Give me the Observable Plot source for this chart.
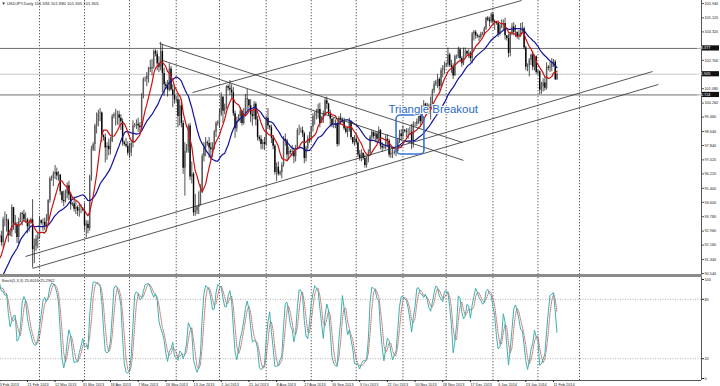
<!DOCTYPE html>
<html><head><meta charset="utf-8">
<script src="https://cdn.jsdelivr.net/npm/d3@7"></script>
<script src="https://cdn.jsdelivr.net/npm/@observablehq/plot@0.6"></script>
<style>
body{margin:0;background:#fff;}
#wrap{width:720px;height:386px;overflow:hidden;font-family:"Liberation Sans",Arial,sans-serif;background:#fff;}
#sep{width:702px;height:3px;background:#8a8a8a;}
svg{display:block;overflow:visible;}
</style></head><body><div id="wrap"></div>
<script>
// Daily bars [high, low, close]; MT4 feed with Sunday sessions. Open = previous close.
// jan2013: 2 Jan .. 1 Feb 2013 (pre-roll, last element is 1 Feb)
const jan2013 = [[87.25,86.25,87.20],[87.40,86.70,87.15],[88.45,86.85,88.15],[88.25,88.00,88.05],[88.40,87.60,87.80],[87.90,86.85,87.10],[87.90,87.00,87.80],[89.00,87.60,88.85],[89.65,88.70,89.20],[89.35,89.15,89.25],[89.65,88.80,89.10],[89.35,87.80,88.60],[88.85,87.90,88.30],[90.10,88.25,89.95],[90.25,89.30,90.10],[90.10,89.85,89.95],[90.10,89.05,89.60],[90.70,88.40,88.70],[89.25,88.05,88.60],[90.70,88.55,90.40],[91.00,90.20,90.80],[90.95,90.70,90.85],[91.15,90.30,90.80],[91.00,90.10,90.70],[91.50,90.60,91.10],[91.75,90.85,91.70],[92.80,91.55,92.70]];
const feb2013 = [[92.75,92.55,92.65],[92.95,92.10,92.30],[93.75,91.95,93.60],[94.05,93.20,93.60],[93.90,92.90,93.55],[93.65,92.30,92.70],[92.95,92.65,92.90],[94.45,92.60,94.30],[94.25,93.00,93.40],[93.85,92.80,93.30],[93.45,92.25,92.60],[93.70,92.20,93.50],[94.00,93.45,93.95],[94.05,93.25,93.90],[94.15,93.50,93.60],[94.00,93.40,93.60],[93.70,92.80,93.20],[93.60,92.90,93.40],[93.70,93.35,93.60],[94.75,90.85,91.90],[92.50,91.10,92.10],[92.70,91.80,92.50],[92.80,91.95,92.60]];
const mar2013 = [[93.75,92.50,93.55],[93.60,93.30,93.40],[93.65,92.95,93.45],[93.70,93.00,93.25],[93.90,92.90,93.55],[94.75,93.50,94.70],[96.05,94.55,95.95],[96.10,95.80,95.95],[96.35,95.50,96.20],[96.70,95.90,96.30],[96.55,95.85,96.10],[96.35,95.80,96.15],[96.20,95.00,95.20],[95.20,94.55,94.70],[95.25,94.35,94.65],[95.30,94.55,95.10],[95.70,94.80,95.55],[95.80,94.70,95.00],[95.15,94.15,94.45],[94.60,94.35,94.50],[94.90,94.05,94.20],[94.65,93.90,94.30],[94.40,93.80,94.10],[94.50,93.75,94.20],[94.45,93.95,94.20],[94.30,94.05,94.15]];
const apr2013 = [[94.55,92.95,93.25],[93.55,92.55,93.35],[93.55,92.80,93.10],[96.15,92.95,96.05],[97.80,95.80,97.60],[98.00,97.50,97.90],[99.05,97.50,98.95],[99.70,98.50,99.20],[99.85,98.90,99.65],[99.95,99.20,99.70],[99.75,98.00,98.40],[98.45,98.10,98.30],[98.50,96.85,97.70],[98.00,97.00,97.80],[98.20,97.25,97.60],[98.30,97.30,98.05],[99.60,98.00,99.50],[99.70,99.35,99.60],[99.90,98.95,99.60],[99.80,99.00,99.60],[99.80,98.95,99.40],[99.60,98.70,99.20],[99.35,97.80,98.00],[98.10,97.80,97.90],[98.25,97.70,97.80],[98.05,97.25,97.40]];
const may2013 = [[97.95,97.10,97.40],[98.10,97.20,97.95],[99.25,97.70,98.95],[99.10,98.85,99.00],[99.30,98.75,99.05],[99.40,98.60,98.95],[99.15,98.55,98.85],[100.80,98.80,100.60],[101.70,100.50,101.60],[101.75,101.45,101.60],[102.00,101.20,101.80],[102.30,101.40,102.25],[102.70,102.00,102.20],[102.75,101.80,102.30],[103.30,102.20,103.20],[103.30,102.90,103.05],[103.25,102.10,102.50],[102.90,102.00,102.30],[103.73,102.10,103.20],[103.60,100.85,101.95],[102.25,100.65,101.30],[101.45,101.05,101.20],[101.55,100.60,101.00],[102.50,100.90,102.20],[102.35,100.95,101.00],[101.30,100.00,100.70],[101.15,100.20,100.45]];
const jun2013 = [[100.60,100.30,100.45],[100.70,98.85,99.50],[100.45,98.95,100.10],[100.30,98.85,99.10],[99.25,96.20,96.55],[98.00,94.95,97.50],[97.90,97.40,97.75],[99.05,97.40,98.95],[99.10,95.85,96.05],[96.90,95.65,96.20],[96.30,93.80,94.00],[95.05,93.80,94.10],[94.40,93.90,94.30],[95.20,93.90,94.50],[95.60,94.40,95.30],[97.35,95.10,97.20],[98.00,96.90,97.70],[98.30,97.20,98.00],[98.10,97.80,97.95],[98.30,97.10,97.70],[98.00,97.00,97.60],[98.00,97.15,97.80],[98.70,97.60,98.60],[99.20,98.30,99.10],[99.25,98.95,99.15]];
const jul2013 = [[99.90,98.80,99.60],[100.85,99.50,100.60],[100.60,99.10,99.80],[100.20,99.60,100.00],[101.25,99.90,101.20],[101.30,100.95,101.10],[101.55,100.70,101.00],[101.30,100.50,100.85],[101.15,99.50,99.65],[99.80,98.25,98.80],[99.45,98.60,99.20],[99.60,99.20,99.50],[100.00,99.10,99.80],[99.85,98.95,99.10],[99.95,99.00,99.70],[100.75,99.60,100.50],[101.05,99.80,100.45],[100.45,99.90,100.10],[100.45,99.15,99.60],[99.85,98.95,99.50],[100.35,99.30,100.20],[100.30,98.95,99.30],[99.50,98.10,98.30],[98.40,98.05,98.20],[98.40,97.60,97.90],[98.15,97.60,98.00],[98.30,97.55,97.90]];
const aug2013 = [[99.50,97.80,99.40],[99.95,98.75,98.95],[99.00,98.70,98.85],[99.00,97.95,98.25],[98.40,97.60,97.80],[97.90,96.15,96.30],[96.85,95.80,96.60],[96.90,96.10,96.20],[96.40,96.10,96.30],[96.85,95.95,96.70],[98.35,96.60,98.20],[98.50,97.80,98.10],[98.20,96.95,97.30],[97.75,97.00,97.50],[97.60,97.30,97.45],[97.85,97.20,97.50],[97.70,96.80,97.20],[97.85,96.90,97.70],[98.80,97.60,98.70],[99.00,98.40,98.70],[98.85,98.55,98.70],[98.90,98.30,98.50],[98.60,96.80,97.10],[97.80,96.90,97.70],[98.40,97.50,98.20],[98.60,97.95,98.10]];
const sep2013 = [[98.95,98.10,98.90],[99.65,98.60,99.50],[99.75,99.00,99.50],[99.90,99.30,99.70],[100.20,99.35,99.90],[100.25,98.85,99.10],[99.50,99.10,99.40],[99.80,99.10,99.60],[100.55,99.50,100.40],[100.60,99.90,100.20],[100.25,99.50,99.60],[99.85,98.90,99.35],[99.35,98.85,99.00],[99.40,98.80,99.00],[99.30,98.80,99.10],[99.20,97.75,97.90],[99.50,97.80,99.40],[99.65,99.00,99.30],[99.40,99.10,99.20],[99.40,98.70,98.80],[98.95,98.50,98.60],[98.90,98.30,98.70],[99.40,98.60,99.20],[99.25,98.15,98.30],[98.30,97.90,98.00],[98.40,97.80,98.20]];
const oct2013 = [[98.50,97.90,98.00],[98.10,97.15,97.30],[97.55,96.95,97.10],[97.60,96.90,97.40],[97.40,97.00,97.10],[97.30,96.55,96.70],[97.20,96.55,97.00],[97.60,96.85,97.40],[98.40,97.30,98.30],[98.70,98.10,98.60],[98.60,98.20,98.35],[98.60,98.00,98.50],[98.60,98.00,98.20],[98.90,98.00,98.70],[98.75,97.60,97.80],[98.00,97.45,97.70],[97.85,97.60,97.75],[98.40,97.60,98.20],[98.45,97.70,98.10],[98.20,97.15,97.30],[97.60,97.10,97.40],[97.75,97.10,97.40],[97.55,97.30,97.45],[97.80,97.20,97.50],[98.25,97.40,98.10],[98.70,97.95,98.50],[98.75,98.05,98.35]];
const nov2013 = [[98.95,98.20,98.70],[98.75,98.55,98.65],[98.80,98.30,98.60],[98.80,98.20,98.60],[98.90,98.40,98.60],[99.05,97.60,98.10],[99.20,97.70,99.05],[99.15,98.90,99.05],[99.35,98.90,99.20],[99.75,99.05,99.60],[99.70,98.95,99.20],[100.00,99.10,99.90],[100.40,99.75,100.20],[100.25,100.00,100.10],[100.25,99.80,100.00],[100.20,99.60,99.90],[100.60,99.30,100.20],[101.05,100.10,100.95],[101.50,100.80,101.30],[101.55,101.20,101.45],[101.90,101.10,101.60],[101.70,100.95,101.20],[102.25,101.10,102.10],[102.40,101.70,102.20],[102.60,101.90,102.40]];
const dec2013 = [[102.55,102.30,102.45],[103.40,102.30,103.00],[103.10,102.30,102.40],[102.70,101.95,102.30],[102.50,101.60,101.80],[103.00,101.80,102.90],[103.00,102.75,102.90],[103.45,102.80,103.30],[103.40,102.60,102.80],[102.90,102.30,102.50],[103.40,102.40,103.20],[103.40,102.80,103.20],[103.25,102.95,103.05],[103.30,102.80,103.10],[103.20,102.60,102.80],[104.30,102.50,104.20],[104.40,103.80,104.30],[104.40,103.90,104.10],[104.20,103.95,104.05],[104.15,103.75,104.00],[104.30,103.90,104.20],[104.30,104.10,104.20],[104.60,104.10,104.50],[105.15,104.40,105.10],[105.20,104.90,105.00],[105.15,104.60,104.90],[105.40,104.80,105.30]];
const jan2014 = [[105.44,104.65,104.90],[105.00,104.40,104.85],[104.90,104.70,104.80],[104.95,104.00,104.20],[104.75,104.10,104.65],[105.00,104.50,104.80],[105.00,104.40,104.80],[105.10,103.85,104.10],[104.10,103.80,103.95],[104.20,102.85,103.10],[104.30,102.90,104.20],[104.80,104.10,104.60],[104.85,104.10,104.30],[104.70,104.00,104.30],[104.30,103.90,104.05],[104.40,103.85,104.20],[104.80,104.00,104.30],[104.85,104.20,104.50],[104.60,103.30,103.40],[103.50,102.10,102.30],[102.50,102.05,102.40],[102.80,101.75,102.70],[103.05,102.40,103.00],[103.20,102.10,102.30],[103.00,102.10,102.90],[102.95,101.90,102.00]];
const feb2014 = [[102.15,101.85,102.05],[102.10,100.75,101.00],[101.45,100.76,101.20],[101.65,100.90,101.40],[101.70,100.95,101.10],[102.55,101.00,102.30],[102.40,102.10,102.25],[102.60,102.00,102.30],[102.80,102.05,102.60],[102.75,102.30,102.60],[102.70,101.55,101.594],[101.98,101.555,101.905]];
const prevClose = 86.75;

// time axis (bar numbers, 3 Feb 2013 = bar 0)
const dateLabels = ["3 Feb 2013","21 Feb 2013","12 Mar 2013","31 Mar 2013","18 Apr 2013","7 May 2013","26 May 2013","13 Jun 2013","2 Jul 2013","21 Jul 2013","8 Aug 2013","27 Aug 2013","16 Sep 2013","3 Oct 2013","22 Oct 2013","10 Nov 2013","28 Nov 2013","17 Dec 2013","6 Jan 2014","23 Jan 2014","11 Feb 2014"];
const labelBars = [0,16,32,48,64,80,96,112,128,144,160,176,192,208,224,240,256,272,288,304,320];
const monthStartBars = [23,49,75,102,127,154,180,206,233,258,285,311,335];

// price axis (103.500 and 101.880 sit under the marked price boxes)
const priceTicks = [105.94,105.12,104.32,102.7,101.08,100.26,99.46,98.64,97.84,97.02,96.22,95.4,94.6,93.78,92.96,92.16,91.34,90.54];
const levelPrices = [103.377, 100.724];
const bidPrice = 101.905;
const markedPrices = [103.377, 101.905, 100.724];

// drawn objects (bar, price)
const trendLines = [
  {b1: 14.9, p1: 91.51, b2: 377.2, p2: 102.06},
  {b1: 18.95, p1: 90.83, b2: 380.6, p2: 101.32},
  {b1: 111.4, p1: 100.86, b2: 301.5, p2: 106.11},
  {b1: 92.3, p1: 103.66, b2: 267.4, p2: 98.01},
  {b1: 94.1, p1: 102.69, b2: 268.0, p2: 96.99}
];
const breakoutBox = [{b1: 229.3, b2: 245.4, p1: 97.33, p2: 99.55}];
const breakoutNote = [{b: 224.6, p: 99.67, text: "Triangle Breakout"}];
const stochLevels = [20, 80];
const stochTicks = [0, 20, 80, 100];

// ---- build bars
const rows = [jan2013, feb2013, mar2013, apr2013, may2013, jun2013, jul2013, aug2013, sep2013, oct2013, nov2013, dec2013, jan2014, feb2014].flat();
const first = -jan2013.length; // 3 Feb 2013 = bar 0
let pc = prevClose;
const bars = rows.map(([h, l, c], k) => { const o = pc; pc = c; return {i: first + k, o, h, l, c}; });

// stochastic 5,3,3
const N = 5, S = 3, P = 3;
const lo = bars.map((d, k) => k < N - 1 ? NaN : d3.min(bars.slice(k - N + 1, k + 1), e => e.l));
const hi = bars.map((d, k) => k < N - 1 ? NaN : d3.max(bars.slice(k - N + 1, k + 1), e => e.h));
const K = bars.map((d, k) => {
  if (k < N - 1 + S - 1) return NaN;
  let a = 0, b = 0;
  for (let j = k - S + 1; j <= k; j++) { a += bars[j].c - lo[j]; b += hi[j] - lo[j]; }
  return b === 0 ? 100 : 100 * a / b;
});
const Dv = K.map((v, k) => k < N - 1 + S - 1 + P - 1 ? NaN : d3.mean(K.slice(k - P + 1, k + 1)));
const stochRows = bars.map((d, k) => ({i: d.i, k: K[k], d: Dv[k]})).filter(r => !isNaN(r.k));

const xDom = [0.462, 405.5];
const font = "Liberation Sans, Arial, sans-serif";

const price = Plot.plot({
  width: 720, height: 274, marginLeft: 0, marginRight: 19, marginTop: 0, marginBottom: 0,
  style: {fontFamily: font, fontSize: "3.8px", color: "#222", background: "#fff"},
  x: {domain: xDom, axis: null},
  y: {domain: [90.483, 106.111]},
  marks: [
    Plot.ruleX(monthStartBars, {stroke: "#333", strokeWidth: 0.8, strokeDasharray: "1.3,1.7"}),
    Plot.ruleY(levelPrices, {stroke: "#6e6e6e", strokeWidth: 1}),
    Plot.ruleY([bidPrice], {stroke: "#c4c4c4", strokeWidth: 1}),
    Plot.ruleX(bars, {x: "i", y1: "l", y2: "h", stroke: "#1a1a1a", strokeWidth: 0.75, clip: true}),
    Plot.ruleX(bars, {filter: d => d.c >= d.o, x: "i", y1: "o", y2: "c", stroke: "#5a5a5a", strokeWidth: 1.4, clip: true}),
    Plot.ruleX(bars, {filter: d => d.c < d.o, x: "i", y1: "o", y2: "c", stroke: "#000", strokeWidth: 1.4, clip: true}),
    Plot.line(bars, Plot.windowY({k: 21, anchor: "end", reduce: "mean"}, {x: "i", y: "c", stroke: "#12129c", strokeWidth: 1.2, clip: true})),
    Plot.line(bars, Plot.windowY({k: 8, anchor: "end", reduce: "mean"}, {x: "i", y: "c", stroke: "#cc1111", strokeWidth: 1.2, clip: true})),
    Plot.link(trendLines, {x1: "b1", y1: "p1", x2: "b2", y2: "p2", stroke: "#2a2a2a", strokeWidth: 0.8, clip: true}),
    Plot.rect(breakoutBox, {x1: "b1", x2: "b2", y1: "p1", y2: "p2", fill: "none", stroke: "#3574d4", strokeWidth: 1.6, rx: 4}),
    Plot.text(breakoutNote, {x: "b", y: "p", text: "text", textAnchor: "start", lineAnchor: "bottom", fontSize: 11.4, fontFamily: font, fill: "#2a68c8", stroke: "#ffffff", strokeWidth: 2.2, paintOrder: "stroke"}),
    Plot.text(["\u25BC USDJPY,Daily 101.594 101.980 101.555 101.905"], {frameAnchor: "top-left", dx: 1, dy: 2, lineAnchor: "top", textAnchor: "start", fontSize: 4.2, fill: "#222"}),
    Plot.ruleX([xDom[1]], {stroke: "#555", strokeWidth: 1}),
    Plot.axisY(priceTicks, {anchor: "right", tickFormat: d => d.toFixed(3), tickSize: 2, tickPadding: 1, fontSize: 3.8, label: null, stroke: "#555"})
  ]
});

// highlighted price labels
const ys = price.scale("y");
const sel = d3.select(price);
for (const v of markedPrices) {
  const y = ys.apply(v);
  sel.append("rect").attr("x", 702).attr("y", y - 2.6).attr("width", 17).attr("height", 5.2).attr("fill", "#111");
  sel.append("text").attr("x", 703.5).attr("y", y + 1.4).attr("fill", "#fff").attr("font-size", 3.8).attr("font-family", font).text(v.toFixed(3));
}

const stochMap = new Map(labelBars.map((b, k) => [b, dateLabels[k]]));
const stoch = Plot.plot({
  width: 720, height: 109, marginLeft: 0, marginRight: 19, marginTop: 0, marginBottom: 6,
  style: {fontFamily: font, fontSize: "3.8px", color: "#222", background: "#fff"},
  x: {domain: xDom},
  y: {domain: [-2.02, 102.02]},
  marks: [
    Plot.ruleX(monthStartBars, {stroke: "#333", strokeWidth: 0.8, strokeDasharray: "1.3,1.7"}),
    Plot.ruleY(stochLevels, {stroke: "#9a9a9a", strokeWidth: 0.8, strokeDasharray: "1,1.5"}),
    Plot.line(stochRows, {x: "i", y: "d", stroke: "#b84a4a", strokeWidth: 0.8, strokeDasharray: "1,1.2", clip: true}),
    Plot.line(stochRows, {x: "i", y: "k", stroke: "#3fb0ae", strokeWidth: 1, clip: true}),
    Plot.text(["Stoch(5,3,3) 25.6016 25.2962"], {frameAnchor: "top-left", dx: 1, dy: 1.5, lineAnchor: "top", textAnchor: "start", fontSize: 4, fill: "#222"}),
    Plot.ruleX([xDom[1]], {stroke: "#555", strokeWidth: 1}),
    Plot.ruleY([-2.02], {stroke: "#555", strokeWidth: 1}),
    Plot.axisY(stochTicks, {anchor: "right", tickFormat: d => String(d), tickSize: 2, tickPadding: 1, fontSize: 3.8, label: null}),
    Plot.axisX(labelBars, {anchor: "bottom", tickFormat: d => stochMap.get(d), textAnchor: "start", tickSize: 2, tickPadding: 1, fontSize: 3.8, label: null})
  ]
});

const wrap = document.getElementById("wrap");
wrap.appendChild(price);
const sep = document.createElement("div"); sep.id = "sep"; wrap.appendChild(sep);
wrap.appendChild(stoch);
</script>
</body></html>
